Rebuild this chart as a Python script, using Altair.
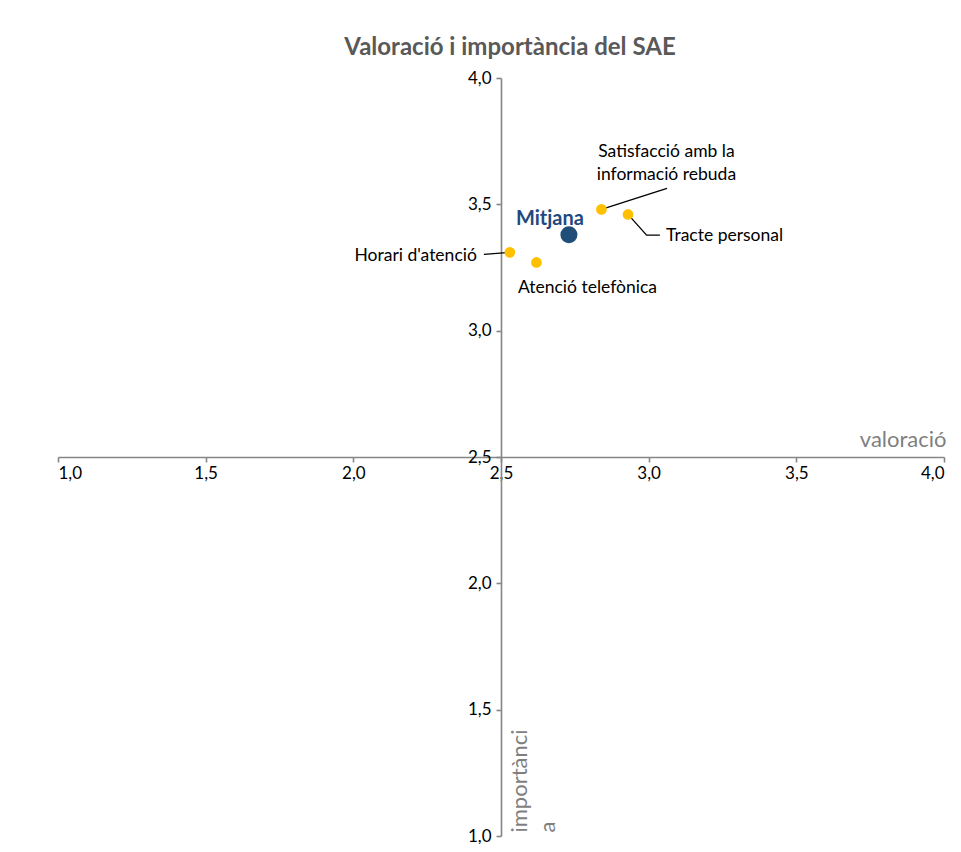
import altair as alt
import pandas as pd

# ---- data ----
categories = ["Satisfacció amb la informació rebuda", "Tracte personal",
              "Horari d'atenció", "Atenció telefònica"]
display_labels = ["Satisfacció amb la\ninformació rebuda", "Tracte personal",
                  "Horari d'atenció", "Atenció telefònica"]
valoracio = [2.84, 2.93, 2.53, 2.62]
importancia = [3.48, 3.46, 3.31, 3.27]

mean_label = ["Mitjana"]
mean_valoracio = [2.73]
mean_importancia = [3.38]

# leader lines (annotation polylines, in data units)
leader_cat = ["Satisfacció amb la informació rebuda", "Satisfacció amb la informació rebuda",
              "Tracte personal", "Tracte personal", "Tracte personal",
              "Horari d'atenció", "Horari d'atenció"]
leader_order = [0, 1, 0, 1, 2, 0, 1]
leader_valoracio = [2.84, 3.062, 2.93, 2.993, 3.038, 2.53, 2.442]
leader_importancia = [3.48, 3.563, 3.46, 3.378, 3.378, 3.31, 3.302]

tick_values = [1.0, 1.5, 2.0, 2.5, 3.0, 3.5, 4.0]

W, H = 886, 758
FONT = "Lato"
AXIS_GRAY = "#868686"
TICK_FS = 17
LABEL_FS = 17.5

points_df = pd.DataFrame({"cat": categories, "label": display_labels,
                          "valoracio": valoracio, "importancia": importancia})
mean_df = pd.DataFrame({"cat": mean_label, "label": mean_label,
                        "valoracio": mean_valoracio, "importancia": mean_importancia})
leader_df = pd.DataFrame({"cat": leader_cat, "ord": leader_order,
                          "valoracio": leader_valoracio, "importancia": leader_importancia})

label_expr = "replace(format(datum.value, '.1f'), '.', ',')"

X = alt.X("valoracio:Q",
          scale=alt.Scale(domain=[1, 4], nice=False, zero=False),
          axis=alt.Axis(orient="bottom", offset=-H / 2, values=tick_values,
                        labelExpr=label_expr, grid=False,
                        domainColor=AXIS_GRAY, domainWidth=1.6,
                        tickColor=AXIS_GRAY, tickWidth=1.6, tickSize=5,
                        labelFont=FONT, labelFontSize=TICK_FS, labelColor="#000000",
                        labelPadding=3,
                        title="valoració", titleFont=FONT, titleFontSize=22,
                        titleFontWeight="normal", titleColor="#7f7f7f",
                        titleX=W + 2, titleY=-11, titleAlign="right",
                        titleBaseline="alphabetic", titleAngle=0))
Y = alt.Y("importancia:Q",
          scale=alt.Scale(domain=[1, 4], nice=False, zero=False),
          axis=alt.Axis(orient="left", offset=-W / 2, values=tick_values,
                        labelExpr=label_expr, grid=False,
                        domainColor=AXIS_GRAY, domainWidth=1.6,
                        tickColor=AXIS_GRAY, tickWidth=1.6, tickSize=5,
                        labelFont=FONT, labelFontSize=TICK_FS, labelColor="#000000",
                        labelPadding=5,
                        title=["importànci", "a"], titleFont=FONT, titleFontSize=22,
                        titleFontWeight="normal", titleColor="#7f7f7f",
                        titleAngle=270, titleAlign="left", titleBaseline="alphabetic",
                        titleX=25, titleY=H - 4, titleLineHeight=28))

leaders = alt.Chart(leader_df).mark_line(color="#000000", strokeWidth=1.3).encode(
    x=X, y=Y, detail="cat:N", order="ord:Q")

dots = alt.Chart(points_df).mark_circle(size=115, color="#FFC000", opacity=1).encode(x=X, y=Y)
mean_dot = alt.Chart(mean_df).mark_circle(size=290, color="#1F4E79", opacity=1).encode(x=X, y=Y)

def label_layer(cat, align, dx, dy):
    return alt.Chart(points_df).transform_filter(
        alt.datum.cat == cat
    ).mark_text(font=FONT, fontSize=LABEL_FS, color="#000000", align=align,
                baseline="middle", dx=dx, dy=dy, lineBreak="\n", lineHeight=23).encode(
        x=X, y=Y, text="label:N")

lab1 = label_layer(categories[0], "center", 65, -57.5)
lab2 = label_layer(categories[1], "left", 38, 22)
lab3 = label_layer(categories[2], "right", -33, 3.5)
lab4 = label_layer(categories[3], "center", 51, 25.5)

mean_text = alt.Chart(mean_df).mark_text(font=FONT, fontSize=20, fontWeight="bold",
                                         color="#1F497D", align="center",
                                         baseline="middle", dx=-19, dy=-16).encode(
    x=X, y=Y, text="label:N")

chart = alt.layer(leaders, dots, mean_dot, lab1, lab2, lab3, lab4, mean_text).properties(
    width=W, height=H,
    title=alt.TitleParams("Valoració i importància del SAE", font=FONT, fontSize=24,
                          fontWeight="bold", color="#595959", anchor="middle", dx=9,
                          offset=9),
    autosize=alt.AutoSizeParams(type="none"),
    padding={"left": 50, "top": 70, "right": 9, "bottom": 8},
).configure_view(stroke=None)

chart.save("out.html", embed_options={"renderer": "svg", "actions": False})
